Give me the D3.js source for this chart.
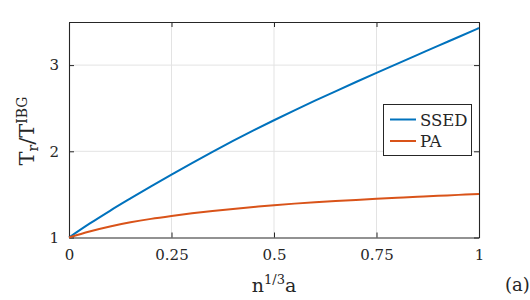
<!DOCTYPE html>
<html><head><meta charset="utf-8">
<script src="https://cdn.jsdelivr.net/npm/d3@7"></script>
<style>body{margin:0;background:#fff}svg{display:block}text{font-family:"DejaVu Serif","Liberation Serif",serif;fill:#262626}</style>
</head><body><svg id="c" width="530" height="300"></svg>
<script>
const xValues = [0, 0.05, 0.1, 0.15, 0.2, 0.25, 0.3, 0.35, 0.4, 0.45, 0.5, 0.55, 0.6, 0.65, 0.7, 0.75, 0.8, 0.85, 0.9, 0.95, 1.0];
const ssedValues = [1, 1.16, 1.31, 1.453, 1.593, 1.73, 1.864, 1.994, 2.12, 2.242, 2.36, 2.475, 2.587, 2.696, 2.804, 2.91, 3.015, 3.119, 3.223, 3.326, 3.43];
const paValues = [1, 1.07, 1.128, 1.176, 1.216, 1.25, 1.281, 1.308, 1.332, 1.354, 1.375, 1.393, 1.409, 1.423, 1.436, 1.449, 1.461, 1.4725, 1.4835, 1.4945, 1.505];
const xTicks = [0, 0.25, 0.5, 0.75, 1];
const xTickLabels = ["0", "0.25", "0.5", "0.75", "1"];
const yTicks = [1, 2, 3];
const yTickLabels = ["1", "2", "3"];
const seriesNames = ["SSED", "PA"];
const seriesColors = ["#0072BD", "#D95319"];

const FONT = '"DejaVu Serif","Liberation Serif",serif';
const svg = d3.select("#c");
const L = 69, R = 479, T = 22, B = 237.5;
const x = d3.scaleLinear().domain([0, 1]).range([L, R]);
const y = d3.scaleLinear().domain([1, 3.5]).range([B, T]);
const axisCol = "#262626";

svg.append("g").selectAll("line").data(xTicks.slice(1, -1)).join("line")
  .attr("x1", d => x(d)).attr("x2", d => x(d)).attr("y1", T).attr("y2", B)
  .attr("stroke", "#e3e3e3").attr("stroke-width", 1);
svg.append("g").selectAll("line").data(yTicks.slice(1)).join("line")
  .attr("x1", L).attr("x2", R).attr("y1", d => y(d)).attr("y2", d => y(d))
  .attr("stroke", "#e3e3e3").attr("stroke-width", 1);

const fmtX = (d, i) => xTickLabels[i];
const fmtY = (d, i) => yTickLabels[i];
const gx = svg.append("g").attr("transform", `translate(0,${B})`)
  .call(d3.axisBottom(x).tickValues(xTicks).tickFormat(fmtX).tickSizeInner(-5).tickSizeOuter(0).tickPadding(12));
const gy = svg.append("g").attr("transform", `translate(${L},0)`)
  .call(d3.axisLeft(y).tickValues(yTicks).tickFormat(fmtY).tickSizeInner(-5).tickSizeOuter(0).tickPadding(10));
const gt = svg.append("g").attr("transform", `translate(0,${T})`)
  .call(d3.axisTop(x).tickValues(xTicks).tickFormat("").tickSizeInner(-5).tickSizeOuter(0));
const gr = svg.append("g").attr("transform", `translate(${R},0)`)
  .call(d3.axisRight(y).tickValues(yTicks).tickFormat("").tickSizeInner(-5).tickSizeOuter(0));
[gx, gy, gt, gr].forEach(g => {
  g.attr("font-family", FONT);
  g.select(".domain").attr("stroke", axisCol).attr("stroke-width", 1.1);
  g.selectAll(".tick line").attr("stroke", axisCol).attr("stroke-width", 1);
  g.selectAll("text").attr("font-size", 15).attr("fill", axisCol).attr("font-family", FONT);
});

const series = [ssedValues, paValues];
const line = d3.line().x((d, i) => x(xValues[i])).y(d => y(d)).curve(d3.curveMonotoneX);
series.forEach((s, k) => {
  svg.append("path").datum(s).attr("d", line).attr("fill", "none")
    .attr("stroke", seriesColors[k]).attr("stroke-width", 2);
});

const lg = svg.append("g");
lg.append("rect").attr("x", 383.5).attr("y", 104.5).attr("width", 88).attr("height", 51)
  .attr("fill", "#fff").attr("stroke", axisCol).attr("stroke-width", 1);
seriesNames.forEach((n, k) => {
  const yy = 119.5 + k * 21.5;
  lg.append("line").attr("x1", 390).attr("x2", 416).attr("y1", yy).attr("y2", yy)
    .attr("stroke", seriesColors[k]).attr("stroke-width", 2);
  lg.append("text").attr("x", 420).attr("y", yy + 6).attr("font-size", 16.5).attr("font-family", FONT).text(n);
});

const yl = svg.append("text").attr("transform", "translate(34,131) rotate(-90)")
  .attr("text-anchor", "middle").attr("font-size", 21).attr("font-family", FONT);
yl.append("tspan").text("T");
yl.append("tspan").attr("font-size", 14).attr("dy", 4).text("r");
yl.append("tspan").attr("dy", -4).text("/T");
yl.append("tspan").attr("font-size", 14).attr("dy", -7).text("IBG");

const xl = svg.append("text").attr("x", 274).attr("y", 291.5)
  .attr("text-anchor", "middle").attr("font-size", 19).attr("font-family", FONT);
xl.append("tspan").text("n");
xl.append("tspan").attr("font-size", 13).attr("dy", -8).text("1/3");
xl.append("tspan").attr("dy", 8).text("a");

svg.append("text").attr("x", 505).attr("y", 291).attr("font-size", 18).attr("font-family", FONT).text("(a)");
</script></body></html>
